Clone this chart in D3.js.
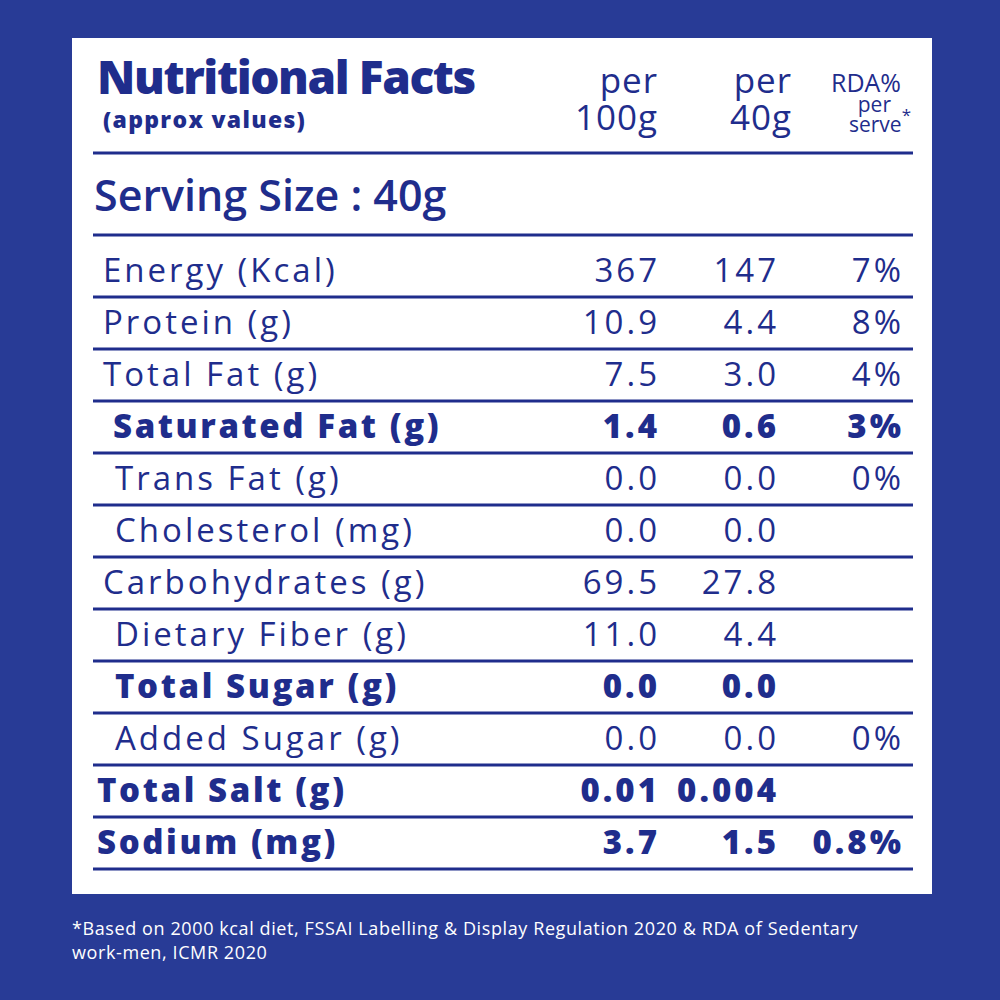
<!DOCTYPE html>
<html>
<head>
<meta charset="utf-8">
<script src="https://cdn.jsdelivr.net/npm/d3@7"></script>
<style>
  body { margin: 0; background: #283b96; }
  svg { display: block; }
</style>
</head>
<body>
<svg id="chart"></svg>
<script>
// table data
const nutrients = [
    "Energy (Kcal)", "Protein (g)", "Total Fat (g)", "Saturated Fat (g)",
    "Trans Fat (g)", "Cholesterol (mg)", "Carbohydrates (g)", "Dietary Fiber (g)",
    "Total Sugar (g)", "Added Sugar (g)", "Total Salt (g)", "Sodium (mg)"
];
const per100g = ["367", "10.9", "7.5", "1.4", "0.0", "0.0", "69.5", "11.0", "0.0", "0.0", "0.01", "3.7"];
const per40g  = ["147", "4.4", "3.0", "0.6", "0.0", "0.0", "27.8", "4.4", "0.0", "0.0", "0.004", "1.5"];
const rdaPct  = ["7%", "8%", "4%", "3%", "0%", "", "", "", "", "0%", "", "0.8%"];
// 0 = main item, 1 = sub item, -1 = summary item
const level   = [0, 0, 0, 1, 1, 1, 0, 1, 1, 1, -1, -1];
const emphasis = [false, false, false, true, false, false, false, false, true, false, true, true];
const footnote = [
    "*Based on 2000 kcal diet, FSSAI Labelling & Display Regulation 2020 & RDA of Sedentary",
    "work-men, ICMR 2020"
];

let W = 1000, H = 1000;
let ink = "#1f2d8c";
let font = "'Open Sans', sans-serif";

let svg = d3.select("#chart").attr("width", W).attr("height", H);

svg.append("rect").attr("width", W).attr("height", H).attr("fill", "#283b96");

// white panel
svg.append("rect")
    .attr("x", 72).attr("y", 38)
    .attr("width", 860).attr("height", 856)
    .attr("fill", "#fff");

let left = 93, right = 913;

// row scale
let y = d3.scaleBand()
    .domain(nutrients)
    .range([245, 869])
    .paddingInner(0);

// value columns, right aligned
let cols = [
    { values: per100g, x: 657 },
    { values: per40g, x: 776 },
    { values: rdaPct, x: 901 }
];

let g = svg.append("g").attr("font-family", font).attr("fill", ink);

// header
g.append("text")
    .attr("x", 97).attr("y", 94)
    .attr("font-size", 46).attr("font-weight", 800)
    .attr("letter-spacing", -1.4)
    .text("Nutritional Facts");

g.append("text")
    .attr("x", 103).attr("y", 128)
    .attr("font-size", 23).attr("font-weight", 800)
    .attr("letter-spacing", 1.3)
    .text("(approx values)");

let headers = [
    { lines: ["per", "100g"], x: 657 },
    { lines: ["per", "40g"], x: 791 }
];
headers.forEach(function(h) {
    h.lines.forEach(function(t, i) {
        g.append("text")
            .attr("x", h.x + 1).attr("y", 93 + i * 37)
            .attr("text-anchor", "end")
            .attr("font-size", 35).attr("font-weight", 400)
            .attr("letter-spacing", 1)
            .text(t);
    });
});

g.append("text").attr("x", 901).attr("y", 92)
    .attr("text-anchor", "end").attr("font-size", 25).attr("font-weight", 400)
    .text("RDA%");
g.append("text").attr("x", 891).attr("y", 112)
    .attr("text-anchor", "end").attr("font-size", 21).attr("font-weight", 400)
    .text("per");
let serve = g.append("text").attr("x", 911).attr("y", 132)
    .attr("text-anchor", "end").attr("font-size", 21).attr("font-weight", 400);
serve.append("tspan").text("serve");
serve.append("tspan").attr("dy", -11).attr("font-size", 17).text("*");

// serving size
g.append("text")
    .attr("x", 94).attr("y", 211)
    .attr("font-size", 43).attr("font-weight", 600)
    .text("Serving Size : 40g");

// rules
let rules = [153, 235].concat(nutrients.map(function(d) { return y(d) + y.bandwidth(); }));
svg.selectAll("line.rule")
    .data(rules)
    .enter().append("line")
    .attr("class", "rule")
    .attr("x1", left).attr("x2", right)
    .attr("y1", function(d) { return d; })
    .attr("y2", function(d) { return d; })
    .attr("stroke", ink)
    .attr("stroke-width", 3);

// rows
let rows = g.selectAll("g.row")
    .data(nutrients)
    .enter().append("g")
    .attr("class", "row")
    .attr("transform", function(d) {
        return "translate(0," + (y(d) + y.bandwidth() - 15) + ")";
    })
    .attr("font-size", 33)
    .attr("font-weight", function(d, i) { return emphasis[i] ? 800 : 400; });

let indent = { "-1": 97, "0": 103, "1": 115 };
rows.append("text")
    .attr("x", function(d, i) { return i === 3 ? 113 : indent[level[i]]; })
    .attr("letter-spacing", function(d, i) { return emphasis[i] ? 2.6 : 3.0; })
    .text(function(d) { return d; });

cols.forEach(function(c) {
    rows.append("text")
        .attr("x", c.x + 3).attr("text-anchor", "end")
        .attr("letter-spacing", 3)
        .text(function(d, i) { return c.values[i]; });
});

// footnote
svg.append("g")
    .attr("font-family", font)
    .attr("font-size", 18)
    .attr("fill", "#fff")
    .attr("letter-spacing", 0.6)
    .selectAll("text")
    .data(footnote)
    .enter().append("text")
    .attr("x", 72)
    .attr("y", function(d, i) { return 935 + i * 24; })
    .text(function(d) { return d; });
</script>
</body>
</html>
